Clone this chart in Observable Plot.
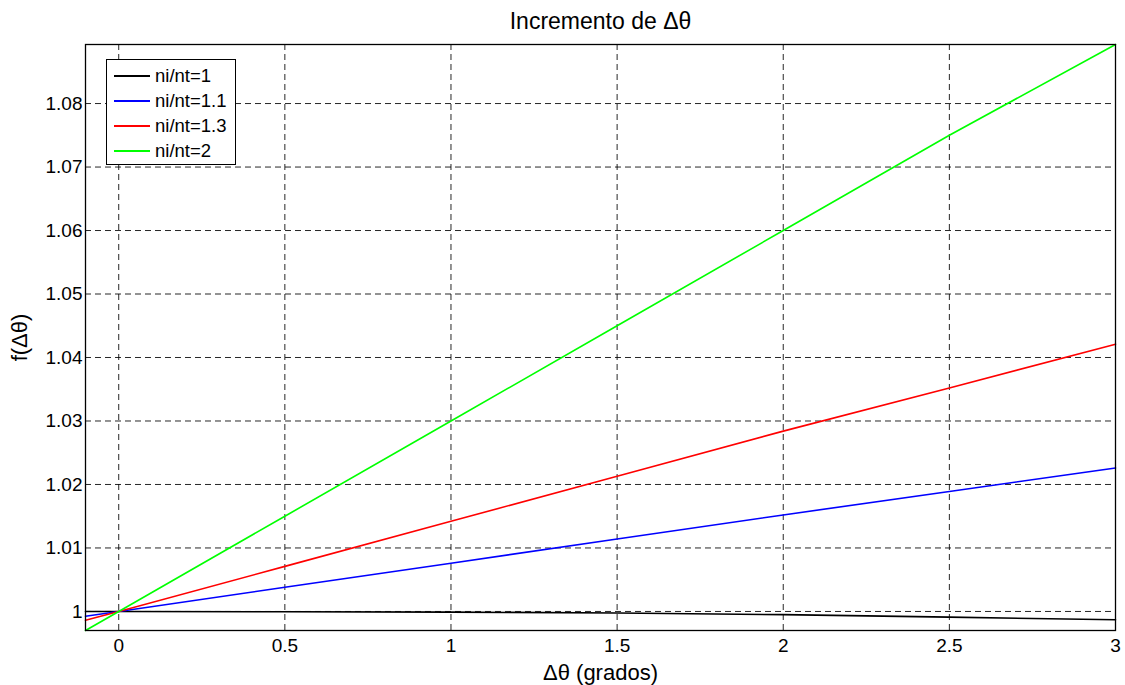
<!DOCTYPE html>
<html>
<head>
<meta charset="utf-8">
<script src="https://cdn.jsdelivr.net/npm/d3@7"></script>
<script src="https://cdn.jsdelivr.net/npm/@observablehq/plot@0.6"></script>
<style>
  html, body { margin: 0; padding: 0; background: #fff; }
  #wrap { position: relative; width: 1125px; height: 685px; font-family: "Liberation Sans", Arial, sans-serif; }
  #legend { position: absolute; left: 106px; top: 59px; width: 128px; height: 104px; border: 1px solid #000; background: #fff; }
  .row { position: absolute; left: 0; height: 20px; display: flex; align-items: center; font-size: 18.5px; color: #000; white-space: nowrap; }
  .sw { width: 36px; height: 0; border-top: 2px solid; margin-left: 7px; margin-right: 5px; }
</style>
</head>
<body>
<div id="wrap"></div>
<script>
const title = "Incremento de Δθ";
const xLabel = "Δθ (grados)";
const yLabel = "f(Δθ)";
const seriesNames = ["ni/nt=1", "ni/nt=1.1", "ni/nt=1.3", "ni/nt=2"];
const seriesColors = ["#000000", "#0000ff", "#ff0000", "#00ff00"];
const xValues = [-0.1, 0, 0.5, 1, 1.5, 2, 2.5, 3];
const ratio1 = [1.0, 1.0, 0.99995, 0.9999, 0.99975, 0.9995, 0.9991, 0.9987];
const ratio11 = [0.99925, 1.0, 1.0038, 1.0076, 1.0114, 1.0152, 1.0189, 1.0226];
const ratio13 = [0.9986, 1.0, 1.0071, 1.0142, 1.0213, 1.0284, 1.0352, 1.0421];
const ratio2 = [0.997, 1.0, 1.015, 1.030, 1.045, 1.060, 1.075, 1.0893];
const xTicks = [0, 0.5, 1, 1.5, 2, 2.5, 3];
const yTicks = [1, 1.01, 1.02, 1.03, 1.04, 1.05, 1.06, 1.07, 1.08];
const xDomain = [-0.1, 3];
const yDomain = [0.997, 1.0893];

const seriesValues = [ratio1, ratio11, ratio13, ratio2];
const data = [];
seriesNames.forEach((name, i) => {
  xValues.forEach((x, j) => data.push({series: name, x, y: seriesValues[i][j]}));
});

const fmt = d3.format("~g");

const chart = Plot.plot({
  width: 1125,
  height: 685,
  marginLeft: 85,
  marginRight: 10,
  marginTop: 44,
  marginBottom: 55,
  style: {fontFamily: '"Liberation Sans", Arial, sans-serif', fontSize: "19px", color: "#000", background: "#fff"},
  x: {domain: xDomain},
  y: {domain: yDomain},
  color: {domain: seriesNames, range: seriesColors},
  marks: [
    Plot.gridX(xTicks, {stroke: "#000", strokeOpacity: 0.85, strokeDasharray: "6,4", strokeWidth: 1}),
    Plot.gridY(yTicks, {stroke: "#000", strokeOpacity: 0.85, strokeDasharray: "6,4", strokeWidth: 1}),
    Plot.line(data, {x: "x", y: "y", z: "series", stroke: "series", strokeWidth: 1.6}),
    Plot.axisX(xTicks, {anchor: "bottom", tickSize: 0, tickPadding: 8, tickFormat: fmt, fontSize: 19, label: xLabel, labelAnchor: "center", labelArrow: "none", labelOffset: 49}),
    Plot.axisY(yTicks, {anchor: "left", tickSize: 0, tickPadding: 3, tickFormat: fmt, fontSize: 19, label: yLabel, labelAnchor: "center", labelArrow: "none", labelOffset: 74}),
    Plot.frame({stroke: "#000", strokeWidth: 1.3}),
    Plot.text([title], {frameAnchor: "top", dy: -16, lineAnchor: "bottom", fontSize: 23, fill: "#000"})
  ]
});

const wrap = document.getElementById("wrap");
wrap.appendChild(chart);
chart.querySelectorAll("g[aria-label='x-axis label'] text, g[aria-label='y-axis label'] text").forEach(t => t.setAttribute("font-size", "22"));

const legend = document.createElement("div");
legend.id = "legend";
seriesNames.forEach((name, i) => {
  const row = document.createElement("div");
  row.className = "row";
  row.style.top = (6 + i * 25) + "px";
  const sw = document.createElement("span");
  sw.className = "sw";
  sw.style.borderTopColor = seriesColors[i];
  const tx = document.createElement("span");
  tx.textContent = name;
  row.appendChild(sw);
  row.appendChild(tx);
  legend.appendChild(row);
});
wrap.appendChild(legend);
</script>
</body>
</html>
